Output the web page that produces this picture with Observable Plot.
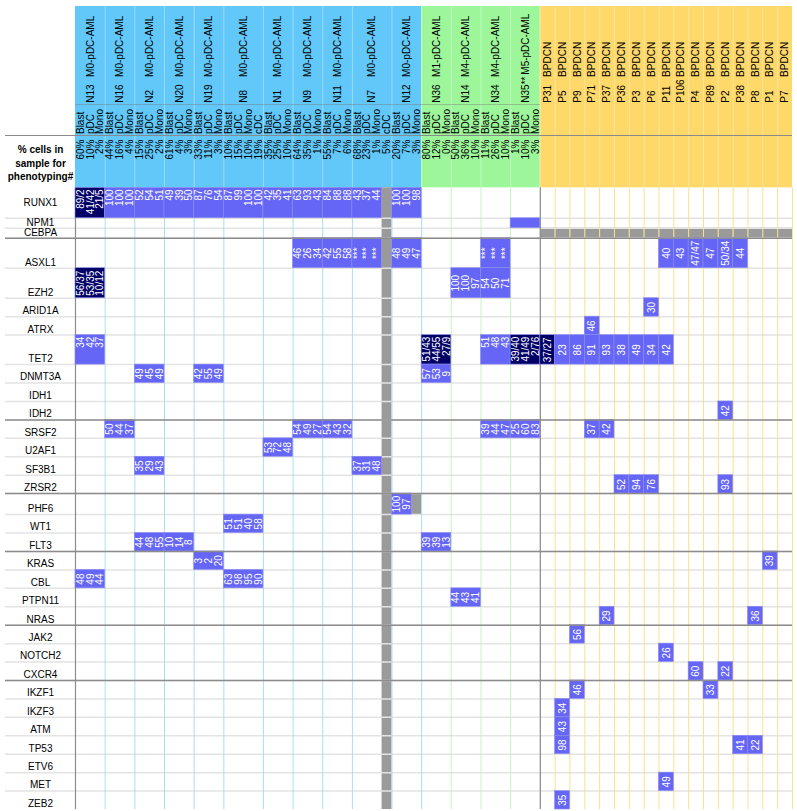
<!DOCTYPE html>
<html><head><meta charset="utf-8">
<script src="https://cdn.jsdelivr.net/npm/d3@7"></script>
<script src="https://cdn.jsdelivr.net/npm/@observablehq/plot@0.6"></script>
<style>body{margin:0;background:#fff} svg{display:block}</style>
</head><body><div id="chart"></div>
<script>
// ---------------- DATA ----------------
const patients = ["N13","N16","N2","N20","N19","N8","N1","N9","N11","N7","N12",
  "N36","N14","N34","N35**",
  "P31","P5","P9","P71","P37","P36","P3","P6","P11","P106","P4","P89","P2","P38","P8","P1","P7"];
const diagnoses = ["M0-pDC-AML","M0-pDC-AML","M0-pDC-AML","M0-pDC-AML","M0-pDC-AML","M0-pDC-AML",
  "M0-pDC-AML","M0-pDC-AML","M0-pDC-AML","M0-pDC-AML","M0-pDC-AML",
  "M1-pDC-AML","M4-pDC-AML","M4-pDC-AML","M5-pDC-AML",
  "BPDCN","BPDCN","BPDCN","BPDCN","BPDCN","BPDCN","BPDCN","BPDCN","BPDCN","BPDCN","BPDCN","BPDCN",
  "BPDCN","BPDCN","BPDCN","BPDCN","BPDCN"];
const cohorts = ["M0","M0","M0","M0","M0","M0","M0","M0","M0","M0","M0",
  "M1-M5","M1-M5","M1-M5","M1-M5",
  "BPDCN","BPDCN","BPDCN","BPDCN","BPDCN","BPDCN","BPDCN","BPDCN","BPDCN","BPDCN","BPDCN","BPDCN",
  "BPDCN","BPDCN","BPDCN","BPDCN","BPDCN"];
const cellTypes = [
  ["Blast","pDC","Mono"], ["Blast","pDC","Mono"], ["Blast","pDC","Mono"], ["Blast","pDC","Mono"],
  ["Blast","pDC","Mono"], ["Blast","pDC","Mono","cDC"], ["Blast","pDC","Mono"], ["Blast","pDC","Mono"],
  ["Blast","pDC","Mono"], ["Blast","pDC","Mono","cDC"], ["Blast","pDC","Mono"],
  ["Blast","pDC","Mono"], ["Blast","pDC","Mono"], ["Blast","pDC","Mono"], ["Blast","pDC","Mono"],
  [],[],[],[],[],[],[],[],[],[],[],[],[],[],[],[],[]];
const cellPercents = [
  ["60%","10%","2%"], ["44%","16%","4%"], ["15%","25%","2%"], ["61%","4%","3%"],
  ["33%","11%","3%"], ["10%","15%","10%","19%"], ["35%","25%","10%"], ["64%","35%","1%"],
  ["55%","7%","6%"], ["68%","23%","1%","5%"], ["20%","7%","3%"],
  ["80%","12%","0%"], ["50%","36%","10%"], ["11%","26%","10%"], ["1%","10%","3%"],
  [],[],[],[],[],[],[],[],[],[],[],[],[],[],[],[],[]];
const phenoLabel = "% cells in\nsample for\nphenotyping#";

const geneGroups = [
  ["RUNX1","NPM1","CEBPA"],
  ["ASXL1","EZH2","ARID1A","ATRX","TET2","DNMT3A","IDH1","IDH2"],
  ["SRSF2","U2AF1","SF3B1","ZRSR2"],
  ["PHF6","WT1","FLT3"],
  ["KRAS","CBL","PTPN11","NRAS"],
  ["JAK2","NOTCH2","CXCR4"],
  ["IKZF1","IKZF3","ATM","TP53","ETV6","MET","ZEB2"]
];
const geneNotes = {EZH2: "£"};

// [gene, patient, VAF values (one per sorted population, or one per BPDCN sample), kind]
const mutations = [
  ["RUNX1","N13",["89/2","41/42","21/5"],"multi"],
  ["RUNX1","N16",["100","100","100"]],
  ["RUNX1","N2",["52","54","51"]],
  ["RUNX1","N20",["49","39","50"]],
  ["RUNX1","N19",["87","76","54"]],
  ["RUNX1","N8",["87","99","100","100"]],
  ["RUNX1","N1",["42","35","41"]],
  ["RUNX1","N9",["63","93","43"]],
  ["RUNX1","N11",["84","88","88"]],
  ["RUNX1","N7",["43","37","44"]],
  ["RUNX1","N12",["100","100","98"]],
  ["NPM1","N35**",["","",""]],
  ["ASXL1","N9",["46","26","34"]],
  ["ASXL1","N11",["42","55","58"]],
  ["ASXL1","N7",["***","***","***"]],
  ["ASXL1","N12",["48","49","47"]],
  ["ASXL1","N34",["***","***","***"]],
  ["ASXL1","P11",["40"]], ["ASXL1","P106",["43"]], ["ASXL1","P4",["47/47"]],
  ["ASXL1","P89",["47"]], ["ASXL1","P2",["50/34"]], ["ASXL1","P38",["44"]],
  ["EZH2","N13",["56/37","53/35","10/12"],"multi"],
  ["EZH2","N14",["100","100","97"]],
  ["EZH2","N34",["54","50","71"]],
  ["ARID1A","P6",["30"]],
  ["ATRX","P71",["46"]],
  ["TET2","N13",["34","42","37"]],
  ["TET2","N36",["51/43","44/55","27/9"],"multi"],
  ["TET2","N34",["51","48","43"]],
  ["TET2","N35**",["39/40","41/49","2/76"],"multi"],
  ["TET2","P31",["37/27"],"multi"],
  ["TET2","P5",["23"]], ["TET2","P9",["86"]], ["TET2","P71",["91"]], ["TET2","P37",["93"]],
  ["TET2","P36",["38"]], ["TET2","P3",["49"]], ["TET2","P6",["34"]], ["TET2","P11",["42"]],
  ["DNMT3A","N2",["49","45","49"]],
  ["DNMT3A","N19",["42","55","49"]],
  ["DNMT3A","N36",["57","53","9"]],
  ["IDH2","P2",["42"]],
  ["SRSF2","N16",["50","44","37"]],
  ["SRSF2","N9",["54","49","27"]],
  ["SRSF2","N11",["54","43","32"]],
  ["SRSF2","N34",["39","44","47"]],
  ["SRSF2","N35**",["25","60","83"]],
  ["SRSF2","P71",["37"]], ["SRSF2","P37",["42"]],
  ["U2AF1","N1",["53","72","48"]],
  ["SF3B1","N2",["35","29","43"]],
  ["SF3B1","N7",["37","31","48"]],
  ["ZRSR2","P36",["52"]], ["ZRSR2","P3",["94"]], ["ZRSR2","P6",["76"]], ["ZRSR2","P2",["93"]],
  ["PHF6","N12",["100","97"]],
  ["WT1","N8",["51","51","40","58"]],
  ["FLT3","N2",["44","48","55"]],
  ["FLT3","N20",["10","14","8"]],
  ["FLT3","N36",["39","39","13"]],
  ["KRAS","N19",["3","2","20"]],
  ["KRAS","P1",["39"]],
  ["CBL","N13",["48","49","44"]],
  ["CBL","N8",["63","98","95","90"]],
  ["PTPN11","N14",["44","43","41"]],
  ["NRAS","P37",["29"]], ["NRAS","P8",["36"]],
  ["JAK2","P9",["56"]],
  ["NOTCH2","P11",["26"]],
  ["CXCR4","P4",["60"]], ["CXCR4","P2",["22"]],
  ["IKZF1","P9",["46"]], ["IKZF1","P89",["33"]],
  ["IKZF3","P5",["34"]],
  ["ATM","P5",["43"]],
  ["TP53","P5",["98"]], ["TP53","P38",["41"]], ["TP53","P8",["22"]],
  ["MET","P11",["49"]],
  ["ZEB2","P5",["35"]]
];
// cells not assessed: [gene ("all" = every gene), patient or cohort, population (null = whole sample)]
const notAssessed = [
  ["all","N7","cDC"],
  ["PHF6","N12","Mono"],
  ["CEBPA","BPDCN",null]
];

// ---------------- LAYOUT / STYLE ----------------
const cohortFill = {"M0": "#62c8fa", "M1-M5": "#9df79a", "BPDCN": "#ffd86a"};
const cohortLine = {"M0": "#a9def7", "M1-M5": "#c6f3c2", "BPDCN": "#fbe08f"};
const kindFill = {mut: "#6666f6", multi: "#000066", na: "#9a9a9a"};
const bpdcnWidth = 1.5;                       // column width (in population units)
const rowWeight = {RUNX1: 1.65, NPM1: 0.54, CEBPA: 0.54, ASXL1: 1.63, EZH2: 1.63, TET2: 1.6, PHF6: 1.14};
const topAligned = ["RUNX1", "TET2"];         // rows whose multi-population values hang from the top
const centeredLabels = ["RUNX1"];             // gene labels centred vertically (others sit at row bottom)
const HDR = {top: -9.84, typeSep: -4.52, idBase: -4.62, diag: -6.02, typeBase: -2.92,
             pctSep: -2.84, pctTop: -2.62, phenoMid: -1.37};
const labelX = -3.54, lineLeft = -7.08;
const FONT = "Liberation Sans, Arial, Helvetica, sans-serif";

// columns
let acc = 0;
const cols = patients.map((id, i) => {
  const n = cellTypes[i].length;
  const w = n ? n : bpdcnWidth;
  const c = {id, i, n, x1: acc, x2: acc + w, diag: diagnoses[i], cohort: cohorts[i]};
  acc += w;
  return c;
});
const totalX = acc;
const colBy = new Map(cols.map(c => [c.id, c]));

// rows
const genes = geneGroups.flat();
let yacc = 0;
const rows = genes.map(g => {
  const h = rowWeight[g] ?? 1;
  const r = {gene: g, y1: yacc, y2: yacc + h};
  yacc += h;
  return r;
});
const totalY = yacc;
const rowBy = new Map(rows.map(r => [r.gene, r]));
const groupEnds = geneGroups.slice(0, -1).map(g => rowBy.get(g[g.length - 1]).y2);
const rowLines = rows.slice(0, -1).map(r => r.y2);

// header pieces
const cohortSpans = Array.from(d3.group(cols, c => c.cohort), ([k, cs]) => ({cohort: k, x1: cs[0].x1, x2: cs[cs.length - 1].x2}));
const subCols = cols.flatMap(c => cellTypes[c.i].map((t, j) => ({x: c.x1 + j + 0.5, type: t, pct: cellPercents[c.i][j]})));

// mutation blocks and labels
const blocks = mutations.map(([gene, pid, values, kind = "mut"]) => {
  const c = colBy.get(pid), r = rowBy.get(gene);
  const w = c.n ? values.length : c.x2 - c.x1;
  return {x1: c.x1, x2: c.x1 + w, y1: r.y1, y2: r.y2, kind};
});
const valueLabels = mutations.flatMap(([gene, pid, values]) => {
  const c = colBy.get(pid), r = rowBy.get(gene);
  return values.map((v, j) => ({
    x: c.n ? c.x1 + j + 0.5 : (c.x1 + c.x2) / 2,
    y1: r.y1, y2: r.y2, label: v,
    top: c.n > 0 && topAligned.includes(gene)
  }));
});
const naRects = notAssessed.flatMap(([gene, who, pop]) => {
  const cs = colBy.has(who) ? [colBy.get(who)] : cols.filter(c => c.cohort === who);
  const ys = gene === "all" ? {y1: 0, y2: totalY} : {y1: rowBy.get(gene).y1, y2: rowBy.get(gene).y2};
  return cs.map(c => {
    if (pop == null) return {x1: c.x1, x2: c.x2, ...ys};
    const j = cellTypes[c.i].indexOf(pop);
    return {x1: c.x1 + j, x2: c.x1 + j + 1, ...ys};
  });
});
const bodyVLines = cols.map(c => ({x: c.x2, stroke: cohortLine[c.cohort]}));

const chart = Plot.plot({
  width: 797, height: 811,
  marginLeft: 75, marginRight: 5, marginTop: 6, marginBottom: 2,
  x: {domain: [0, totalX], axis: null},
  y: {domain: [HDR.top, totalY], axis: null, reverse: true},
  style: {fontFamily: FONT, fontSize: "10px", background: "white", color: "black"},
  marks: [
    // header backgrounds
    Plot.rect(cohortSpans, {x1: "x1", x2: "x2", y1: () => HDR.top, y2: () => 0, fill: d => cohortFill[d.cohort], inset: 0}),
    Plot.ruleX(cols.slice(0, -1), {x: "x2", y1: () => HDR.top, y2: () => 0, stroke: "white", strokeOpacity: 0.35}),
    Plot.ruleY([HDR.typeSep], {x1: () => 0, x2: () => cohortSpans[1].x2, stroke: "#777", strokeOpacity: 0.45}),
    Plot.ruleY([HDR.pctSep], {x1: () => lineLeft, x2: () => totalX, stroke: "#8a8a8a", strokeWidth: 1.2}),
    // not assessed
    Plot.rect(naRects, {x1: "x1", x2: "x2", y1: "y1", y2: "y2", fill: kindFill.na, inset: 0}),
    // grid
    Plot.ruleY(rowLines, {x1: () => lineLeft, x2: () => totalX, stroke: "#e3e3e3", strokeWidth: 1.5}),
    Plot.ruleX(bodyVLines, {x: "x", y1: () => 0, y2: () => totalY, stroke: "stroke", strokeWidth: 1}),
    Plot.ruleX([0, cohortSpans[1].x2], {y1: () => 0, y2: () => totalY, stroke: "#8c8c8c", strokeWidth: 1.2}),
    // mutation cells
    Plot.rect(blocks, {x1: "x1", x2: "x2", y1: "y1", y2: "y2", fill: d => kindFill[d.kind], stroke: "#8c8cf0", strokeWidth: 0.6, inset: 0}),
    Plot.ruleY(groupEnds, {x1: () => lineLeft, x2: () => totalX, stroke: "#8c8c8c", strokeWidth: 1.5}),
    // header text
    Plot.text(cols, {x: d => (d.x1 + d.x2) / 2, y: () => HDR.idBase, text: "id", rotate: -90, textAnchor: "start", lineAnchor: "middle", fontSize: 10, fill: "black"}),
    Plot.text(cols, {x: d => (d.x1 + d.x2) / 2, y: d => d.id.includes("*") ? HDR.diag - 0.12 : HDR.diag, text: "diag", rotate: -90, textAnchor: "start", lineAnchor: "middle", fontSize: 10, fill: "black"}),
    Plot.text(subCols, {x: "x", y: () => HDR.typeBase, text: "type", rotate: -90, textAnchor: "start", lineAnchor: "middle", fontSize: 10, fill: "black"}),
    Plot.text(subCols, {x: "x", y: () => HDR.pctTop, text: "pct", rotate: -90, textAnchor: "end", lineAnchor: "middle", fontSize: 10, fill: "black"}),
    Plot.text([phenoLabel], {x: () => labelX, y: () => HDR.phenoMid, text: d => d, fontWeight: "bold", lineHeight: 1.35, textAnchor: "middle", lineAnchor: "middle", fontSize: 10, fill: "black", ariaLabel: "pheno-label"}),
    // gene labels
    Plot.text(rows.filter(r => !centeredLabels.includes(r.gene)), {x: () => labelX, y: d => d.y2 - 0.14, text: "gene", textAnchor: "middle", lineAnchor: "bottom", fontSize: 10, fill: "black", ariaLabel: "gene-labels"}),
    Plot.text(rows.filter(r => centeredLabels.includes(r.gene)), {x: () => labelX, y: d => (d.y1 + d.y2) / 2, text: "gene", textAnchor: "middle", lineAnchor: "middle", fontSize: 10, fill: "black"}),
    // values
    Plot.text(valueLabels.filter(d => !d.top), {x: "x", y: d => (d.y1 + d.y2) / 2, text: "label", rotate: -90, textAnchor: "middle", lineAnchor: "middle", fontSize: 10, fill: "white"}),
    Plot.text(valueLabels.filter(d => d.top), {x: "x", y: d => d.y1 + 0.08, text: "label", rotate: -90, textAnchor: "end", lineAnchor: "middle", fontSize: 10, fill: "white"})
  ]
});
document.getElementById("chart").appendChild(chart);

// superscripts
const svg = d3.select(chart);
svg.selectAll('g[aria-label="gene-labels"] text').each(function() {
  const t = this.textContent;
  if (geneNotes[t]) {
    d3.select(this).append("tspan").attr("dy", "-0.45em").attr("font-size", "7px").text(geneNotes[t]);
  }
});
svg.selectAll('g[aria-label="pheno-label"] tspan').each(function() {
  const t = this.textContent;
  if (t.endsWith("#")) {
    const sel = d3.select(this);
    sel.text(t.slice(0, -1));
    sel.append("tspan").attr("dy", "-0.45em").attr("font-size", "7px").text("#");
  }
});
</script>
</body></html>
